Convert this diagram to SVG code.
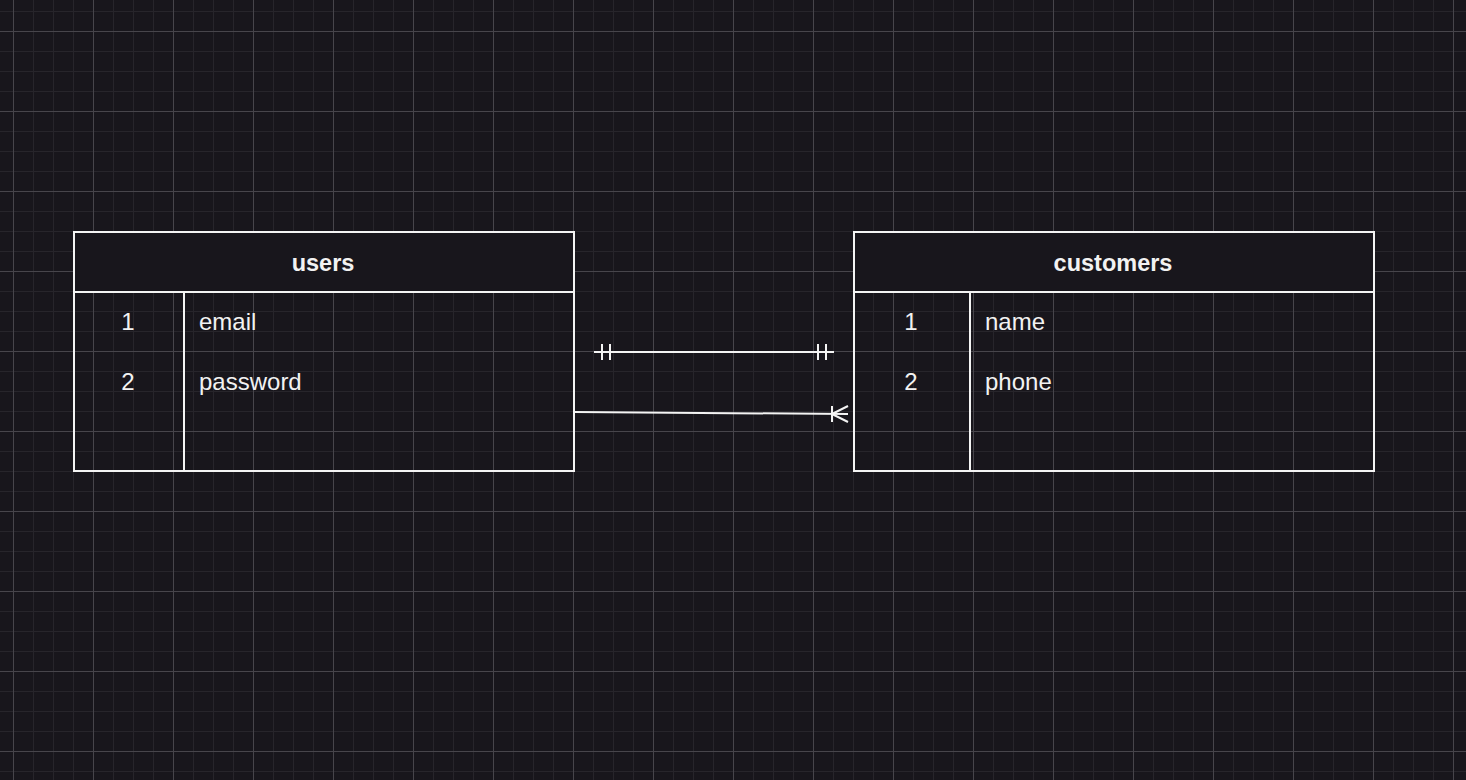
<svg xmlns="http://www.w3.org/2000/svg" width="1466" height="780" viewBox="0 0 1466 780">
  <style>
    .bg { fill: #18161c; }
    .tbl { fill: none; stroke: #f4f4f4; stroke-width: 2; }
    .hdr { fill: #18161c; }
    .div { stroke: #f4f4f4; stroke-width: 2; }
    .title { font-family: "Liberation Sans", Arial, sans-serif; font-size: 23.5px; font-weight: bold; fill: #f2f2f2; text-anchor: middle; }
    .cell { font-family: "Liberation Sans", Arial, sans-serif; font-size: 24px; fill: #f2f2f2; }
    .num { text-anchor: middle; }
    .conn { stroke: #f4f4f4; stroke-width: 2; fill: none; }
  </style>
  <defs>
    <pattern id="minor" x="13" y="11" width="20" height="20" patternUnits="userSpaceOnUse">
      <path d="M0.5 0 V20 M0 0.5 H20" stroke="#27252b" stroke-width="1" fill="none"/>
    </pattern>
    <pattern id="major" x="13" y="31" width="80" height="80" patternUnits="userSpaceOnUse">
      <path d="M0.5 0 V80 M0 0.5 H80" stroke="#47454b" stroke-width="1" fill="none"/>
    </pattern>
  </defs>
  <rect class="bg" x="0" y="0" width="1466" height="780"/>
  <rect x="0" y="0" width="1466" height="780" fill="url(#minor)"/>
  <rect x="0" y="0" width="1466" height="780" fill="url(#major)"/>

  <g id="users">
    <rect class="hdr" x="74" y="232" width="500" height="60"/>
    <rect class="tbl" x="74" y="232" width="500" height="239"/>
    <line class="div" x1="74" y1="292" x2="574" y2="292"/>
    <line class="div" x1="184" y1="292" x2="184" y2="471"/>
    <text class="title" x="323" y="271">users</text>
    <text class="cell num" x="128" y="330">1</text>
    <text class="cell" x="199" y="330">email</text>
    <text class="cell num" x="128" y="390">2</text>
    <text class="cell" x="199" y="390">password</text>
  </g>

  <g id="customers">
    <rect class="hdr" x="854" y="232" width="520" height="60"/>
    <rect class="tbl" x="854" y="232" width="520" height="239"/>
    <line class="div" x1="854" y1="292" x2="1374" y2="292"/>
    <line class="div" x1="970" y1="292" x2="970" y2="471"/>
    <text class="title" x="1113" y="271">customers</text>
    <text class="cell num" x="911" y="330">1</text>
    <text class="cell" x="985" y="330">name</text>
    <text class="cell num" x="911" y="390">2</text>
    <text class="cell" x="985" y="390">phone</text>
  </g>

  <g id="connectors">
    <g id="one-to-one">
      <line class="conn" x1="594" y1="352" x2="834" y2="352"/>
      <line class="conn" x1="602" y1="344" x2="602" y2="360"/>
      <line class="conn" x1="610" y1="344" x2="610" y2="360"/>
      <line class="conn" x1="818" y1="344" x2="818" y2="360"/>
      <line class="conn" x1="826" y1="344" x2="826" y2="360"/>
    </g>
    <g id="one-to-many">
      <line class="conn" x1="575" y1="412" x2="848" y2="414"/>
      <line class="conn" x1="832" y1="406" x2="832" y2="422"/>
      <line class="conn" x1="832" y1="414" x2="848" y2="406"/>
      <line class="conn" x1="832" y1="414" x2="848" y2="422"/>
    </g>
  </g>
</svg>
